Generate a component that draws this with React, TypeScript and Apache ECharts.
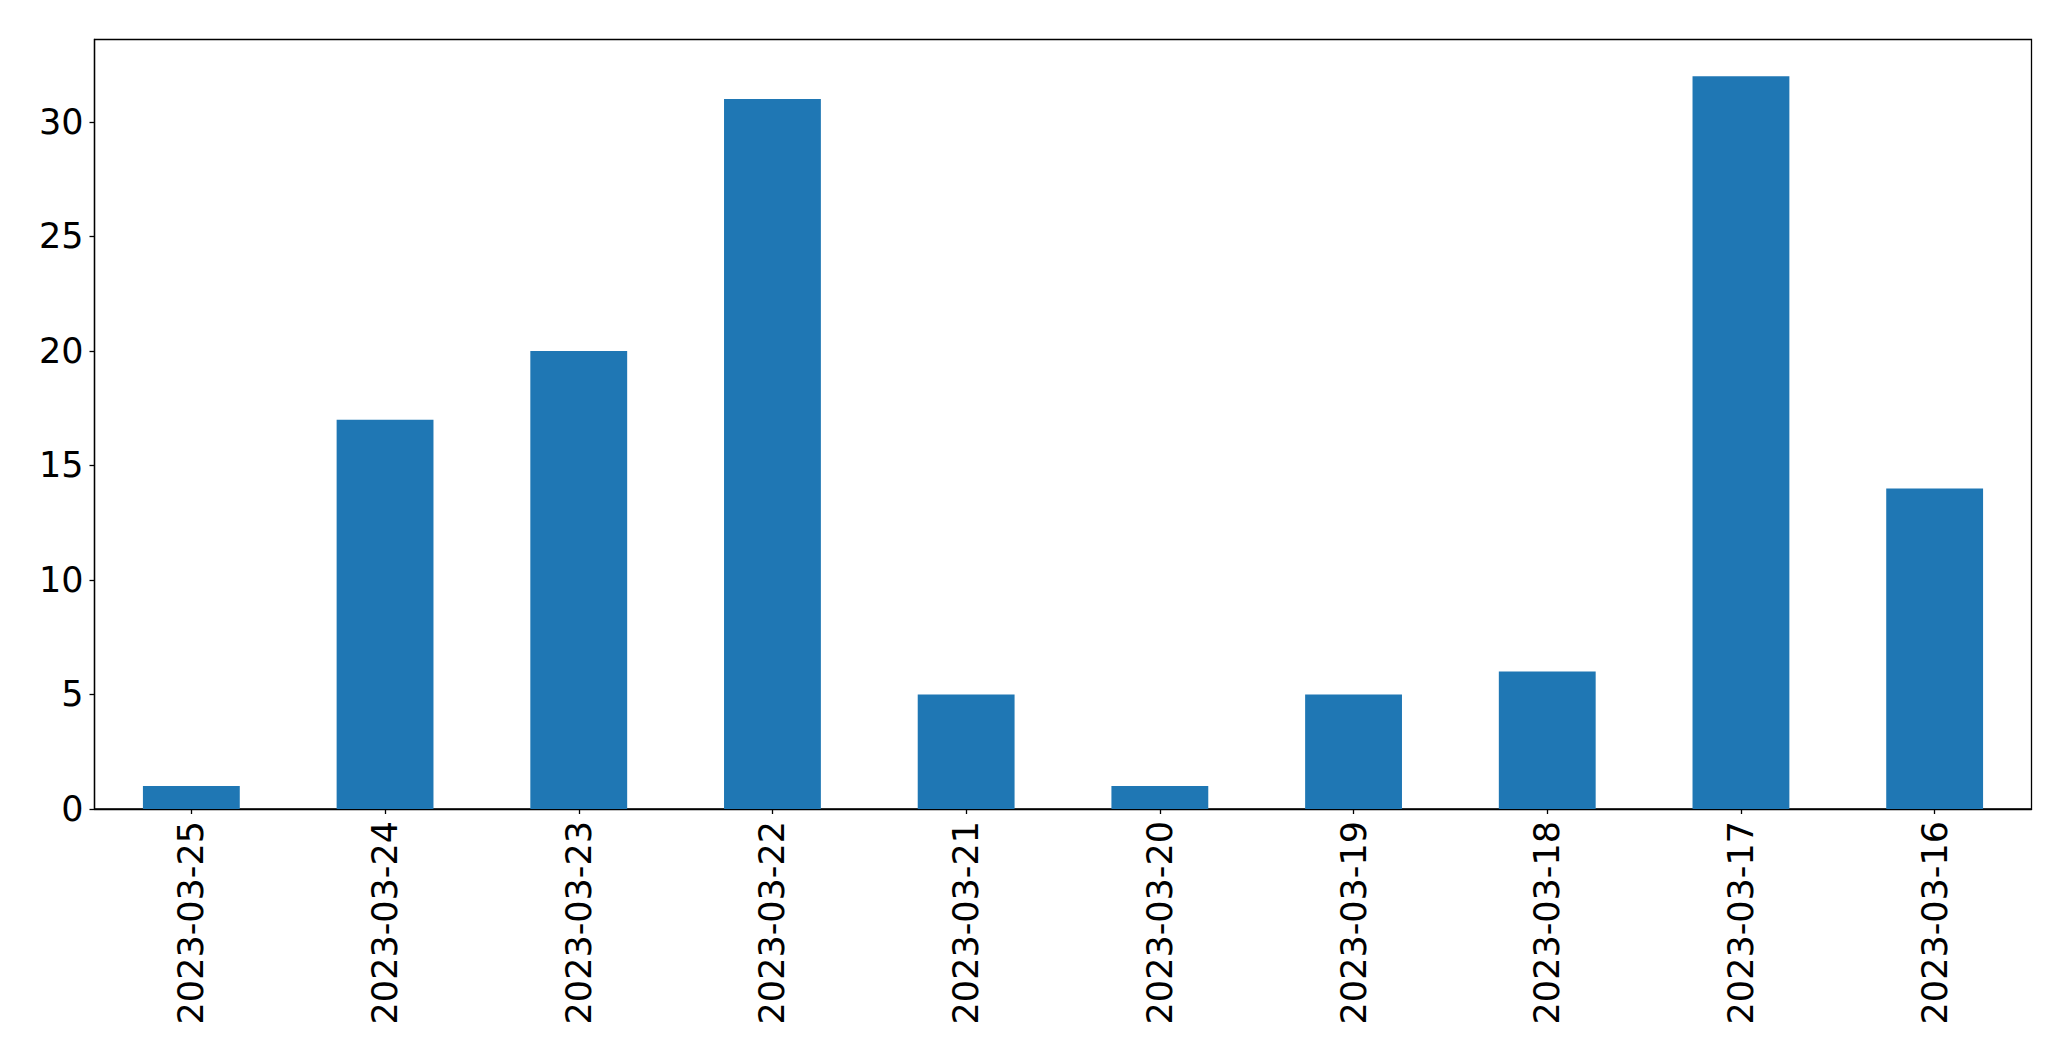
import React, { useEffect, useRef } from "react";
import * as echarts from "echarts";

const categories = [
  "2023-03-25",
  "2023-03-24",
  "2023-03-23",
  "2023-03-22",
  "2023-03-21",
  "2023-03-20",
  "2023-03-19",
  "2023-03-18",
  "2023-03-17",
  "2023-03-16",
];
const counts = [1, 17, 20, 31, 5, 1, 5, 6, 32, 14];
const yTicks = [0, 5, 10, 15, 20, 25, 30];

export default function App() {
  const ref = useRef<HTMLDivElement>(null);
  useEffect(() => {
    if (!ref.current) return;
    const chart = echarts.init(ref.current, undefined, { renderer: "svg" });
    const font = "DejaVu Sans";
    chart.setOption({
      animation: false,
      backgroundColor: "#ffffff",
      grid: {
        left: 94.5,
        right: 39.5,
        top: 39.5,
        bottom: 252,
        show: true,
        borderColor: "#000000",
        borderWidth: 1.3,
        backgroundColor: "transparent",
        containLabel: false,
      },
      xAxis: {
        type: "category",
        data: categories,
        axisLine: { show: true, lineStyle: { color: "#000000", width: 1.3 } },
        axisTick: { show: true, alignWithLabel: true, length: 5, lineStyle: { color: "#000000", width: 1.3 } },
        axisLabel: {
          rotate: 90,
          margin: 12,
          color: "#000000",
          fontSize: 35,
          fontFamily: font,
          interval: 0,
        },
        splitLine: { show: false },
      },
      yAxis: {
        type: "value",
        min: 0,
        max: 33.6,
        interval: 5,
        axisLine: { show: true, lineStyle: { color: "#000000", width: 1.3 } },
        axisTick: { show: true, length: 5, customValues: yTicks, lineStyle: { color: "#000000", width: 1.3 } },
        axisLabel: {
          customValues: yTicks,
          margin: 11,
          color: "#000000",
          fontSize: 35,
          fontFamily: font,
        },
        splitLine: { show: false },
      },
      series: [
        {
          type: "bar",
          data: counts,
          barWidth: "50%",
          itemStyle: { color: "#1f77b4" },
        },
      ],
    });
    return () => chart.dispose();
  }, []);
  return (
    <div
      ref={ref}
      style={{ position: "absolute", left: 0, top: 0, width: 2071, height: 1061 }}
    />
  );
}
